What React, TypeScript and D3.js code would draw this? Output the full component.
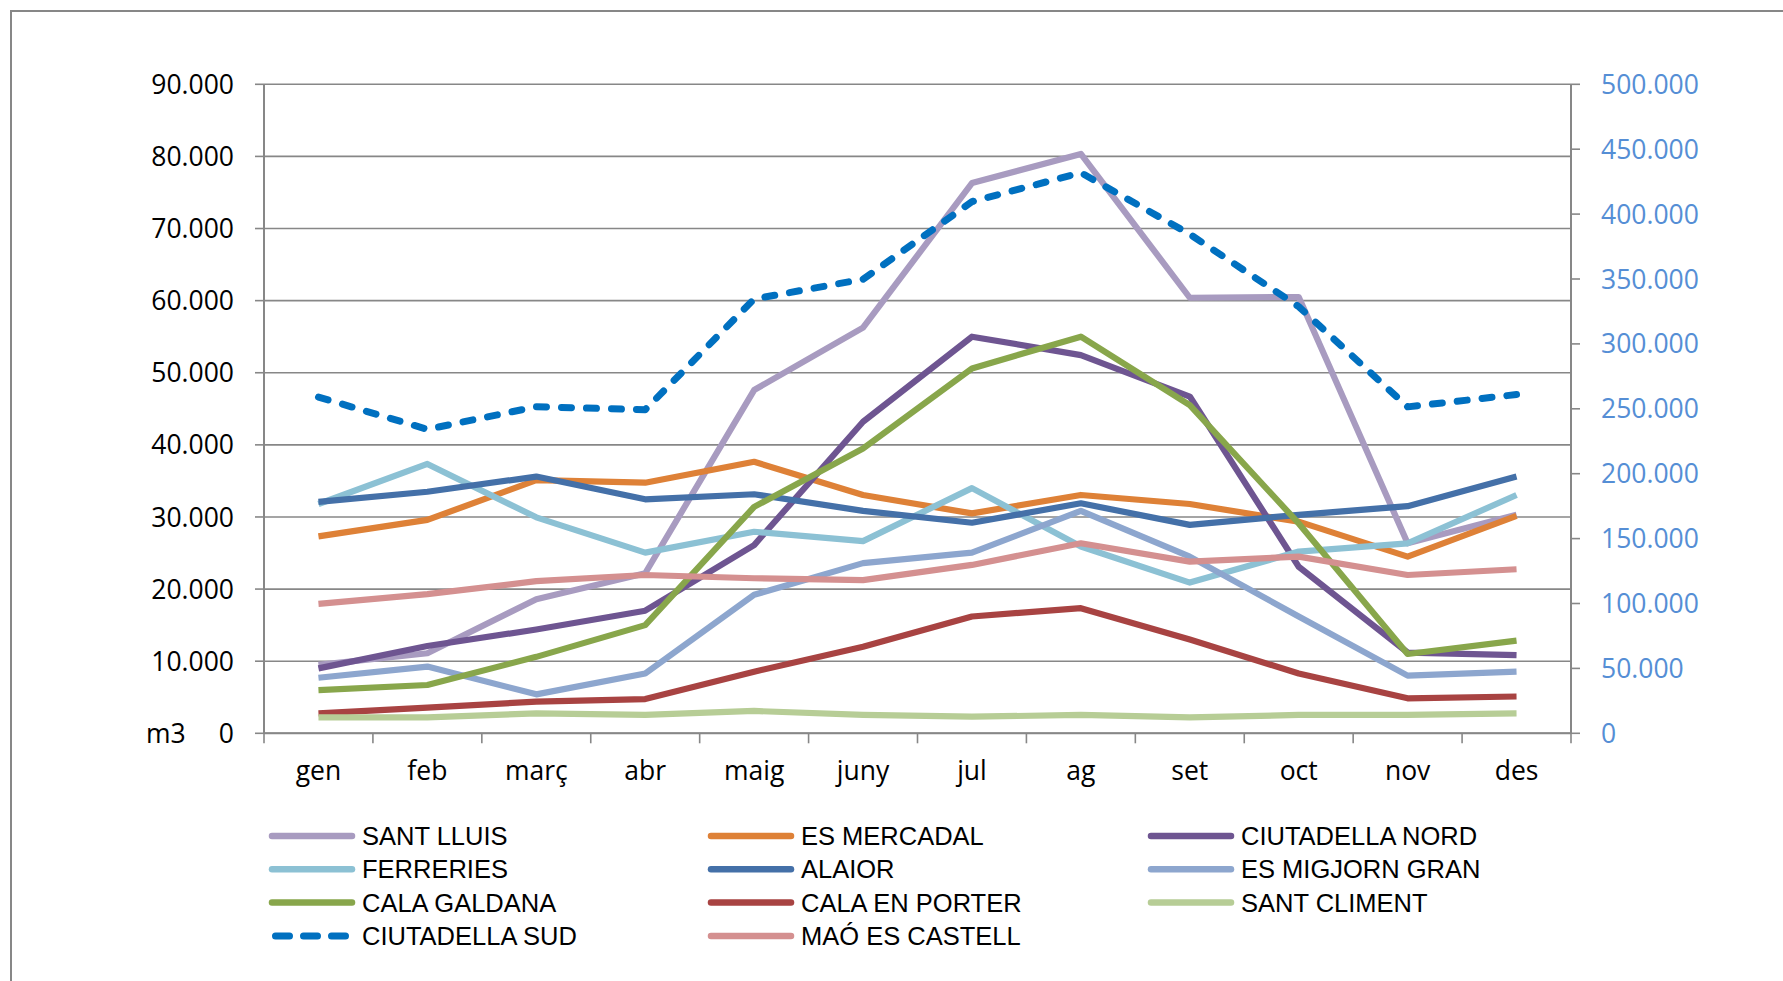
import * as d3 from 'd3';

const months = ['gen', 'feb', 'març', 'abr', 'maig', 'juny', 'jul', 'ag', 'set', 'oct', 'nov', 'des'];

// m3 per month, left axis
const santLluis = [9500, 11100, 18600, 22200, 47600, 56250, 76300, 80350, 60400, 60500, 26350, 30300];
const esMercadal = [27300, 29600, 35100, 34750, 37650, 33050, 30500, 33050, 31800, 29350, 24500, 30150];
const ciutadellaNord = [9000, 12100, 14400, 17000, 26100, 43200, 55000, 52450, 46700, 23100, 11200, 10850];
const ferreries = [31800, 37350, 29950, 25050, 27950, 26650, 34000, 25900, 20900, 25200, 26350, 33050];
const alaior = [32100, 33500, 35600, 32450, 33150, 30850, 29200, 31900, 28900, 30300, 31500, 35600];
const esMigjornGran = [7700, 9250, 5400, 8300, 19200, 23600, 25050, 30850, 24500, 16200, 8000, 8550];
const calaGaldana = [6000, 6700, 10600, 15000, 31400, 39500, 50600, 55000, 45500, 29100, 11000, 12850];
const calaEnPorter = [2770, 3550, 4400, 4750, 8550, 12000, 16200, 17350, 13000, 8300, 4850, 5100];
const santCliment = [2200, 2200, 2770, 2550, 3100, 2550, 2300, 2550, 2200, 2550, 2550, 2770];
const maoEsCastell = [17950, 19300, 21100, 21950, 21500, 21250, 23350, 26350, 23800, 24500, 21950, 22750];
// right axis
const ciutadellaSud = [259000, 234200, 251600, 249300, 334600, 349800, 409600, 431900, 384500, 328700, 251500, 261000];

const leftTicks = d3.range(0, 90001, 10000);
const rightTicks = d3.range(0, 500001, 50000);

const series = [
  { name: 'SANT LLUIS', values: santLluis, color: '#A89BC0' },
  { name: 'ES MERCADAL', values: esMercadal, color: '#DE8137' },
  { name: 'CIUTADELLA NORD', values: ciutadellaNord, color: '#6E5591' },
  { name: 'FERRERIES', values: ferreries, color: '#8CC1D4' },
  { name: 'ALAIOR', values: alaior, color: '#4470A8' },
  { name: 'ES MIGJORN GRAN', values: esMigjornGran, color: '#8DA6CE' },
  { name: 'CALA GALDANA', values: calaGaldana, color: '#88A64B' },
  { name: 'CALA EN PORTER', values: calaEnPorter, color: '#A84342' },
  { name: 'SANT CLIMENT', values: santCliment, color: '#B7CD96' },
  { name: 'CIUTADELLA SUD', values: ciutadellaSud, color: '#0070C0', dashed: true },
  { name: 'MAÓ ES CASTELL', values: maoEsCastell, color: '#D49090' },
];

const W = 1783;
const H = 981;
const plot = { left: 264, right: 1571, top: 84.3, bottom: 733.3 };
const grid = '#878787';
const tickFont = '"Open Sans", "Noto Sans", sans-serif';

export default function App() {
  const x = d3.scaleBand<string>().domain(months).range([plot.left, plot.right]);
  const yL = d3.scaleLinear().domain([0, 90000]).range([plot.bottom, plot.top]);
  const yR = d3.scaleLinear().domain([0, 500000]).range([plot.bottom, plot.top]);
  const cx = (m: string) => (x(m) || 0) + x.bandwidth() / 2;
  const fmt = (v: number) => (v === 0 ? '0' : d3.format(',')(v).replace(/,/g, '.'));

  const lineFor = (s: typeof series[number]) =>
    d3.line<number>()
      .x((_, i) => cx(months[i]))
      .y(v => (s.dashed ? yR(v) : yL(v)))(s.values) || '';

  // legend: 3 columns, filled row by row
  const legendCols = [272, 711, 1151];
  const legendRow0 = 836;
  const legendRowH = 33.3;

  return (
    <svg width={W} height={H} style={{ position: 'absolute', left: 0, top: 0, background: '#fff' }}>
      <rect x={11} y={11} width={W + 20} height={H + 20} fill="#fff" stroke={grid} strokeWidth={2} />

      {/* gridlines */}
      {leftTicks.map(t => (
        <line key={'g' + t} x1={plot.left} x2={plot.right} y1={yL(t)} y2={yL(t)} stroke={grid} strokeWidth={1.6} />
      ))}

      {/* left axis */}
      <line x1={plot.left} x2={plot.left} y1={plot.top} y2={plot.bottom} stroke={grid} strokeWidth={2} />
      {leftTicks.map(t => (
        <g key={'l' + t}>
          <line x1={plot.left - 9} x2={plot.left} y1={yL(t)} y2={yL(t)} stroke={grid} strokeWidth={1.6} />
          <text x={234} y={yL(t)} dy="0.36em" textAnchor="end" fontFamily={tickFont} fontSize={26.5} fill="#000">
            {fmt(t)}
          </text>
        </g>
      ))}
      <text x={146} y={yL(0)} dy="0.36em" fontFamily={tickFont} fontSize={26.5} fill="#000">m3</text>

      {/* right axis */}
      <line x1={plot.right} x2={plot.right} y1={plot.top} y2={plot.bottom} stroke={grid} strokeWidth={2} />
      {rightTicks.map(t => (
        <g key={'r' + t}>
          <line x1={plot.right} x2={plot.right + 9} y1={yR(t)} y2={yR(t)} stroke={grid} strokeWidth={1.6} />
          <text x={1601} y={yR(t)} dy="0.36em" fontFamily={tickFont} fontSize={26.5} fill="#558ED5">
            {fmt(t)}
          </text>
        </g>
      ))}

      {/* x axis */}
      <line x1={plot.left} x2={plot.right} y1={plot.bottom} y2={plot.bottom} stroke={grid} strokeWidth={2} />
      {months.map((m, i) => (
        <g key={m}>
          <line x1={x(m)} x2={x(m)} y1={plot.bottom} y2={plot.bottom + 10} stroke={grid} strokeWidth={1.6} />
          {i === months.length - 1 && (
            <line x1={plot.right} x2={plot.right} y1={plot.bottom} y2={plot.bottom + 10} stroke={grid} strokeWidth={1.6} />
          )}
          <text x={cx(m)} y={770} dy="0.36em" textAnchor="middle" fontFamily={tickFont} fontSize={26.5} fill="#000">
            {m}
          </text>
        </g>
      ))}

      {/* series */}
      {series.map(s => (
        <path
          key={s.name}
          d={lineFor(s)}
          fill="none"
          stroke={s.color}
          strokeWidth={s.dashed ? 7 : 6.2}
          strokeLinejoin="round"
          strokeLinecap={s.dashed ? 'round' : 'butt'}
          strokeDasharray={s.dashed ? '10 15' : undefined}
        />
      ))}

      {/* legend */}
      {series.map((s, i) => {
        const lx = legendCols[i % 3];
        const ly = legendRow0 + Math.floor(i / 3) * legendRowH;
        return (
          <g key={'leg' + s.name}>
            {s.dashed ? (
              <line x1={lx + 3.5} x2={lx + 76} y1={ly} y2={ly} stroke={s.color} strokeWidth={7}
                strokeLinecap="round" strokeDasharray="14 14" />
            ) : (
              <line x1={lx} x2={lx + 80} y1={ly} y2={ly} stroke={s.color} strokeWidth={6.5} strokeLinecap="round" />
            )}
            <text x={lx + 90} y={ly} dy="0.36em" fontFamily='"Liberation Sans", Arial, sans-serif' fontSize={25.5}
              fill="#000">
              {s.name}
            </text>
          </g>
        );
      })}
    </svg>
  );
}
